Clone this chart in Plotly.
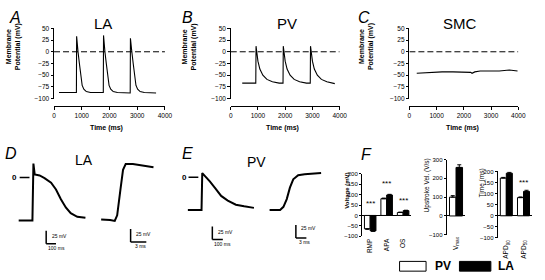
import plotly.graph_objects as go

W, H = 545, 280
FONT = "Arial, Liberation Sans, sans-serif"


def fx(px):
    return px / W


def fy(py):
    return 1 - py / H


# ---------------- data ----------------
TIME_TICKS = [0, 1000, 2000, 3000, 4000]
MP_TICKS = [-100, -75, -50, -25, 0, 25, 50]
ZERO_T = [0, 4000]
ZERO_V = [0, 0]

LA_T = [180, 807, 815, 835, 865, 915, 965, 1015, 1075, 1165, 1315,
        1777, 1785, 1805, 1835, 1885, 1935, 1985, 2045, 2135, 2285,
        2747, 2755, 2775, 2805, 2855, 2905, 2955, 3015, 3105, 3255, 3680]
LA_V = [-87, -87, 33, 10, 0, -25, -50, -72, -80, -85, -87,
        -87, 35, 12, 0, -25, -50, -72, -80, -85, -87,
        -88, 29, 8, 0, -25, -50, -72, -80, -85, -87, -88]

PV_T = [422, 920, 929, 954, 999, 1069, 1179, 1329, 1529, 1779,
        1920, 1929, 1954, 1999, 2069, 2179, 2329, 2529, 2779,
        2920, 2929, 2954, 2999, 3069, 3179, 3329, 3529, 3820]
PV_V = [-67, -67, 12, 0, -20, -37, -50, -59, -64, -67,
        -67, 12, 0, -20, -37, -50, -59, -64, -67,
        -67, 12, 0, -20, -37, -50, -59, -64, -68]

SMC_T = [270, 500, 875, 1200, 1600, 2000, 2250, 2300, 2400, 2600, 3000, 3300, 3670, 3970]
SMC_V = [-46, -45, -43, -43, -43, -43, -44, -46, -43, -41, -41, -41, -39, -41]

LA_AP_T = [-150, -10, 0, 13, 63, 113, 180, 230, 280, 330, 380, 447, 530]
LA_AP_V = [-83, -83, 27, 6, 4, -1, -10, -23, -42, -58, -69, -76, -78]
LA_UP_T = [-3.0, -1.3, -0.4, 0.06, 0.69, 1.18, 1.69, 3.06, 7.0]
LA_UP_V = [-81, -82, -84, -73, -23, 15, 26, 26, 20]

PV_AP_T = [-137, -7, 0, 25, 72, 119, 180, 243, 320, 399, 492]
PV_AP_V = [-63, -63, 8, 3, -8, -20, -36, -45, -53, -56, -59]
PV_UP_T = [-3.0, 0, 0.95, 1.9, 2.8, 3.75, 5.15, 7.0, 11.7]
PV_UP_V = [-63, -63, -57, -42, -20, -4, 4, 6, 8]

SCALE_MV = 25
SCALE_MS_AP = 100
SCALE_MS_UP = 3

VOLT_CATS = ["RMP", "APA", "OS"]
VOLT_TICKS = [-100, -50, 0, 50, 100, 150, 200]
VOLT_PV = [-64, 80, 14]
VOLT_PV_ERR = [2, 3, 2]
VOLT_LA = [-74, 98, 23]
VOLT_LA_ERR = [2, 3, 2]

VMAX_CATS = ["V<sub>max</sub>"]
VMAX_TICKS = [-100, 0, 100, 200, 300]
VMAX_PV = [100]
VMAX_PV_ERR = [8]
VMAX_LA = [258]
VMAX_LA_ERR = [14]

APD_CATS = ["APD<sub>90</sub>", "APD<sub>50</sub>"]
APD_TICKS = [-100, -50, 0, 50, 100, 150, 200]
APD_PV = [170, 82]
APD_PV_ERR = [3, 3]
APD_LA = [192, 110]
APD_LA_ERR = [4, 5]

# ---------------- figure ----------------
fig = go.Figure()
layout = dict(width=W, height=H, margin=dict(l=0, r=0, t=0, b=0),
              paper_bgcolor="white", plot_bgcolor="rgba(0,0,0,0)",
              showlegend=False, bargap=0.3, bargroupgap=0,
              font=dict(family=FONT, color="black"))
annotations = []
shapes = []


def ann(text, px, py, size, bold=False, italic=False, angle=0, xanchor="center"):
    t = text
    if bold:
        t = "<b>" + t + "</b>"
    if italic:
        t = "<i>" + t + "</i>"
    annotations.append(dict(text=t, x=fx(px), y=fy(py), xref="paper", yref="paper",
                            showarrow=False, textangle=angle, xanchor=xanchor, yanchor="middle",
                            font=dict(size=size, family=FONT, color="black")))


tickfont = dict(size=6.5, family=FONT, color="black")

# ---- top row panels A, B, C ----
top_panels = [
    (1, LA_T, LA_V, 53, 166, 105),
    (2, PV_T, PV_V, 233, 344, 105),
    (3, SMC_T, SMC_V, 415, 526, 104.5),
]
for idx, tt, vv, x0, x1, xline in top_panels:
    xs = "x" if idx == 1 else "x%d" % idx
    ys = "y" if idx == 1 else "y%d" % idx
    fig.add_trace(go.Scatter(x=ZERO_T, y=ZERO_V, mode="lines", xaxis=xs, yaxis=ys,
                             line=dict(color="black", width=1, dash="6px,3px"),
                             hoverinfo="skip"))
    fig.add_trace(go.Scatter(x=tt, y=vv, mode="lines", xaxis=xs, yaxis=ys,
                             line=dict(color="black", width=1.1), hoverinfo="skip"))
    xk = "xaxis" if idx == 1 else "xaxis%d" % idx
    yk = "yaxis" if idx == 1 else "yaxis%d" % idx
    layout[xk] = dict(domain=[fx(x0), fx(x1)], range=[0, 4000], anchor="free",
                      position=fy(xline), tickvals=TIME_TICKS, ticks="outside",
                      ticklen=3, tickwidth=1, tickcolor="black", showline=True,
                      linecolor="black", linewidth=1, showgrid=False, zeroline=False,
                      tickfont=tickfont)
    layout[yk] = dict(domain=[fy(97), fy(25)], range=[-100, 50], anchor=xs,
                      tickvals=MP_TICKS, ticks="outside", ticklen=2.5, tickwidth=1,
                      tickcolor="black", showline=True, linecolor="black", linewidth=1,
                      showgrid=False, zeroline=False, tickfont=tickfont)

ann("A", 13, 14, 16, italic=True)
ann("B", 189, 14, 16, italic=True)
ann("C", 369, 14, 16, italic=True)
ann("LA", 103, 20.5, 15)
ann("PV", 290, 20.5, 15)
ann("SMC", 467, 20.5, 15)
for cx in (12.5, 191, 372):
    ann("Membrane<br>Potential (mV)", cx, 44, 7, bold=True, angle=-90)
ann("Time (ms)", 106, 127, 7, bold=True)
ann("Time (ms)", 286, 127, 7, bold=True)
ann("Time (ms)", 469, 127, 7, bold=True)


# ---- bottom traces D, E (scale-bar axes) ----
def hidden_axes(n, px0, px1, pxref, scale_x, py_top, py_bot, pyref, scale_y):
    xr = [(px0 - pxref) / scale_x, (px1 - pxref) / scale_x]
    yr = [(pyref - py_bot) / scale_y, (pyref - py_top) / scale_y]
    layout["xaxis%d" % n] = dict(domain=[fx(px0), fx(px1)], range=xr, visible=False,
                                 anchor="y%d" % n)
    layout["yaxis%d" % n] = dict(domain=[fy(py_bot), fy(py_top)], range=yr, visible=False,
                                 anchor="x%d" % n)


hidden_axes(4, 10, 95, 32, 0.1, 145, 255, 178, 0.53)
hidden_axes(5, 98, 160, 117, 5.33, 145, 255, 178, 0.53)
hidden_axes(6, 185, 262, 204, 0.107, 145, 255, 177.7, 0.532)
hidden_axes(7, 268, 330, 283.3, 3.57, 145, 255, 177.7, 0.532)

for n, tt, vv in [(4, LA_AP_T, LA_AP_V), (5, LA_UP_T, LA_UP_V),
                  (6, PV_AP_T, PV_AP_V), (7, PV_UP_T, PV_UP_V)]:
    fig.add_trace(go.Scatter(x=tt, y=vv, mode="lines", xaxis="x%d" % n, yaxis="y%d" % n,
                             line=dict(color="black", width=2), hoverinfo="skip"))


def scale_bar(n, t0, v0, dt):
    xr, yr = "x%d" % n, "y%d" % n
    shapes.append(dict(type="line", xref=xr, yref=yr, x0=t0, x1=t0, y0=v0, y1=v0 + SCALE_MV,
                       line=dict(color="black", width=1.5)))
    shapes.append(dict(type="line", xref=xr, yref=yr, x0=t0, x1=t0 + dt, y0=v0, y1=v0,
                       line=dict(color="black", width=1.5)))


scale_bar(4, 130, -128, SCALE_MS_AP)
scale_bar(5, 2.63, -124.5, SCALE_MS_UP)
scale_bar(6, 96, -120, SCALE_MS_AP)
scale_bar(7, 4.5, -117, SCALE_MS_UP)

ann("25 mV", 49, 237.5, 5, xanchor="left")
ann("100 ms", 56, 250, 5)
ann("25 mV", 134, 236, 5, xanchor="left")
ann("3 ms", 141, 248.5, 5)
ann("25 mV", 218, 233.5, 5, xanchor="left")
ann("100 ms", 225, 246.5, 5)
ann("25 mV", 303, 230, 5, xanchor="left")
ann("3 ms", 308.5, 244, 5)

# zero markers
ann("0", 13, 178, 8, bold=True)
shapes.append(dict(type="line", xref="paper", yref="y4", x0=fx(18), x1=fx(28), y0=0, y1=0,
                   line=dict(color="black", width=1.5)))
ann("0", 186, 177.7, 8, bold=True)
shapes.append(dict(type="line", xref="paper", yref="y6", x0=fx(190), x1=fx(200), y0=0, y1=0,
                   line=dict(color="black", width=1.5)))

ann("D", 9, 153, 16, italic=True)
ann("E", 189, 153, 16, italic=True)
ann("F", 371, 154, 16, italic=True)
ann("LA", 84, 160, 14)
ann("PV", 259, 162, 14)


# ---- panel F bar charts ----
def err_arrays(vals, errs):
    plus = [e if v >= 0 else 0 for v, e in zip(vals, errs)]
    minus = [e if v < 0 else 0 for v, e in zip(vals, errs)]
    return plus, minus


bar_charts = [
    (8, VOLT_CATS, VOLT_PV, VOLT_PV_ERR, VOLT_LA, VOLT_LA_ERR, VOLT_TICKS, [-100, 200],
     366.7, 417, 174, 238.3),
    (9, VMAX_CATS, VMAX_PV, VMAX_PV_ERR, VMAX_LA, VMAX_LA_ERR, VMAX_TICKS, [-100, 300],
     453, 472, 159.5, 236.7),
    (10, APD_CATS, APD_PV, APD_PV_ERR, APD_LA, APD_LA_ERR, APD_TICKS, [-100, 200],
     505, 540, 171.7, 240),
]
for n, cats, pv, pve, la, lae, ticks, yrange, x0, x1, ytop, ybot in bar_charts:
    for vals, errs, fill in [(pv, pve, "white"), (la, lae, "black")]:
        plus, minus = err_arrays(vals, errs)
        fig.add_trace(go.Bar(x=cats, y=vals, xaxis="x%d" % n, yaxis="y%d" % n,
                             marker=dict(color=fill, line=dict(color="black", width=1)),
                             error_y=dict(type="data", array=plus, arrayminus=minus,
                                          symmetric=False, color="black", thickness=1, width=2),
                             hoverinfo="skip"))
    layout["xaxis%d" % n] = dict(domain=[fx(x0), fx(x1)], anchor="y%d" % n, type="category",
                                 range=[-0.5, len(cats) - 0.5], showline=False, ticks="",
                                 tickangle=-90, showgrid=False, zeroline=False,
                                 tickfont=dict(size=6.5, family=FONT, color="black"))
    layout["yaxis%d" % n] = dict(domain=[fy(ybot), fy(ytop)], anchor="x%d" % n, range=yrange,
                                 tickvals=ticks, ticks="outside", ticklen=2, tickwidth=1,
                                 tickcolor="black", showline=True, linecolor="black",
                                 linewidth=1, showgrid=False, zeroline=True,
                                 zerolinecolor="black", zerolinewidth=1,
                                 tickfont=dict(size=6, family=FONT, color="black"))

ann("Voltage (mV)", 352, 192, 6, bold=True, angle=-90)
ann("Upstroke Vel. (V/s)", 433, 186, 6.5, angle=-90)
ann("Time (ms)", 489, 184, 6.5, angle=-90)

# significance stars (data coordinates of each bar chart)
for n, cat, yv, txt in [(8, "RMP", 56, "***"), (8, "APA", 154, "***"), (8, "OS", 71, "***"),
                        (9, "V<sub>max</sub>", 327, "***"),
                        (10, "APD<sub>90</sub>", 251, "**"), (10, "APD<sub>50</sub>", 150, "***")]:
    annotations.append(dict(text=txt, x=cat, y=yv, xref="x%d" % n, yref="y%d" % n,
                            showarrow=False, xanchor="center", yanchor="middle",
                            font=dict(size=8, family=FONT, color="black")))

# legend
shapes.append(dict(type="rect", xref="paper", yref="paper", x0=fx(405), x1=fx(432),
                   y0=fy(274), y1=fy(264), fillcolor="white", line=dict(color="black", width=1)))
shapes.append(dict(type="rect", xref="paper", yref="paper", x0=fx(466), x1=fx(498),
                   y0=fy(274), y1=fy(264), fillcolor="black", line=dict(color="black", width=1)))
ann("PV", 449, 269, 12, bold=True)
ann("LA", 513, 269, 12, bold=True)

layout["annotations"] = annotations
layout["shapes"] = shapes
fig.update_layout(**layout)
fig.write_html("out.html", config={"displayModeBar": False, "staticPlot": True},
               post_script="document.body.style.margin='0';document.body.style.overflow='hidden';")
